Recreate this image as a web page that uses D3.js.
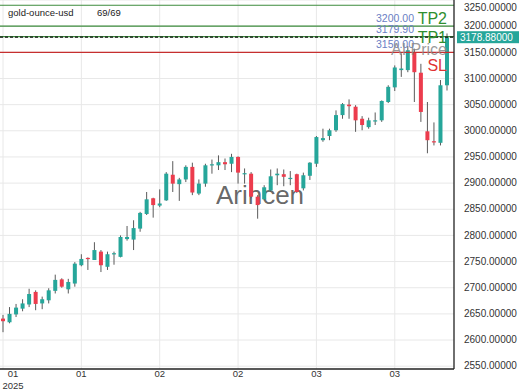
<!DOCTYPE html>
<html><head><meta charset="utf-8">
<script src="https://cdn.jsdelivr.net/npm/d3@7"></script>
<style>body{margin:0;background:#fff}svg{display:block;font-family:"Liberation Sans",Arial,sans-serif}</style>
</head><body><svg id="c" width="520" height="390"></svg>
<script>
const symbol = "gold-ounce-usd";
const countLabel = "69/69";
const openV  = [2641,2634,2649,2660,2668,2692,2670,2676,2694,2716,2697,2708,2743,2757,2753,2769,2740,2764,2759,2793,2792,2813,2841,2871,2857,2867,2916,2898,2907,2931,2880,2899,2934,2934,2940,2937,2950,2917,2918,2874,2869,2886,2915,2917,2908,2917,2890,2914,2937,2982,2990,3001,3030,3050,3046,3023,3007,3018,3020,3055,3083,3116,3116,3149,3111,2999,2980,2977,3087];
const highV  = [2648,2663,2669,2678,2698,2695,2683,2699,2725,2718,2717,2749,2764,2758,2787,2772,2769,2769,2800,2818,2829,2845,2883,2872,2888,2921,2942,2910,2934,2939,2907,2937,2945,2953,2947,2956,2951,2928,2921,2877,2896,2926,2928,2926,2923,2918,2920,2940,2990,3004,3004,3039,3053,3060,3049,3028,3025,3035,3058,3087,3125,3148,3162,3157,3128,3055,3016,3097,3186];
const lowV   = [2615,2632,2644,2655,2663,2657,2659,2670,2689,2700,2689,2702,2741,2734,2753,2730,2734,2744,2758,2790,2772,2807,2839,2834,2854,2866,2883,2866,2902,2877,2877,2893,2918,2925,2925,2921,2899,2899,2871,2832,2867,2883,2896,2894,2896,2881,2886,2906,2931,2979,2982,2998,3023,3023,2998,3001,3004,3011,3017,3053,3076,3103,3112,3055,3017,2957,2972,2972,3077];
const closeV = [2636,2650,2662,2670,2688,2669,2678,2695,2715,2702,2711,2746,2755,2755,2772,2743,2764,2766,2797,2797,2814,2843,2869,2858,2861,2918,2899,2907,2931,2882,2899,2934,2936,2940,2936,2950,2920,2919,2874,2858,2892,2913,2918,2912,2910,2883,2915,2939,2988,2986,3001,3030,3051,3047,3020,3011,3020,3020,3057,3084,3121,3119,3154,3112,3036,2982,2978,3087,3178.88];
const yTicks = [2550,2600,2650,2700,2750,2800,2850,2900,2950,3000,3050,3100,3150,3200,3250];
const xTickIndex = [0,12,24,36,48,60];
const xTickLabels = ["01","01","02","02","03","03"];
const yearLabel = "2025";
const levelValues = [3240, 3200, 3179.90, 3150];
const levelNames  = ["", "TP2", "TP1", "SL"];
const levelKinds  = ["tp", "tp", "tp", "sl"];
const lastPrice = 3178.88;
const aiLabel = "AI Price";
const watermark = "Arincen";

const svg = d3.select("#c");
const PL = 0, PR = 454, PT = 0, PB = 369;
const x = d3.scalePoint().domain(d3.range(openV.length)).range([3, 447]);
const y = d3.scaleLinear().domain([2550, 3250]).range([366.2, 0]);

svg.append("defs").append("clipPath").attr("id","clip").append("rect")
  .attr("x",PL).attr("y",PT).attr("width",PR-PL).attr("height",PB-PT);

// grid
const grid = svg.append("g");
grid.selectAll("line.h").data(yTicks).join("line")
  .attr("x1",PL).attr("x2",PR).attr("y1",d=>y(d)).attr("y2",d=>y(d))
  .attr("stroke","#e8e8e8").attr("stroke-width",1);
grid.selectAll("line.v").data(xTickIndex).join("line")
  .attr("x1",d=>x(d)).attr("x2",d=>x(d)).attr("y1",PT).attr("y2",PB)
  .attr("stroke","#e8e8e8").attr("stroke-width",1);

// watermark
svg.append("text").attr("x",260).attr("y",204).attr("text-anchor","middle")
  .attr("font-size",26).attr("fill","#555").attr("fill-opacity",0.9).text(watermark);

// candles
const up = "#26a69a", down = "#ec3c4d";
const cg = svg.append("g").attr("clip-path","url(#clip)");
const idx = d3.range(openV.length);
cg.selectAll("line.w").data(idx).join("line")
  .attr("x1",i=>x(i)).attr("x2",i=>x(i))
  .attr("y1",i=>y(highV[i])).attr("y2",i=>y(lowV[i]))
  .attr("stroke","#5a5a5a").attr("stroke-width",1);
cg.selectAll("rect.b").data(idx).join("rect")
  .attr("x",i=>x(i)-2).attr("width",4)
  .attr("y",i=>y(Math.max(openV[i],closeV[i])))
  .attr("height",i=>Math.max(1.2, Math.abs(y(openV[i])-y(closeV[i]))))
  .attr("fill",i=>closeV[i]>=openV[i]?up:down);

// level lines
const lg = svg.append("g");
levelValues.forEach((v,i)=>{
  lg.append("line").attr("x1",PL).attr("x2",PR).attr("y1",y(v)).attr("y2",y(v))
    .attr("stroke", levelKinds[i]==="sl" ? "#c62f2f" : "#3d8b3d").attr("stroke-width",1.2);
});
lg.append("line").attr("x1",PL).attr("x2",PR).attr("y1",y(lastPrice)).attr("y2",y(lastPrice))
  .attr("stroke","#111").attr("stroke-width",1.2).attr("stroke-dasharray","3,2");

// level labels
levelValues.forEach((v,i)=>{
  if(!levelNames[i]) return;
  const yy = y(v);
  lg.append("text").attr("x",414).attr("y",yy-4).attr("text-anchor","end")
    .attr("font-size",10.5).attr("fill","#6a80c4").text(v.toFixed(2));
});
levelValues.forEach((v,i)=>{
  if(!levelNames[i]) return;
  const yy = y(v);
  const isSl = levelKinds[i]==="sl";
  lg.append("text").attr("x",447).attr("y", isSl ? yy+19 : yy-2 + (levelNames[i]==="TP1"?8:0))
    .attr("text-anchor","end").attr("font-size",16)
    .attr("fill", isSl ? "#e03333" : "#2f8f2f").text(levelNames[i]);
});
lg.append("text").attr("x",447).attr("y",y(3150)+3).attr("text-anchor","end")
  .attr("font-size",16).attr("fill","#888").attr("fill-opacity",0.85).text(aiLabel);

// frame
svg.append("line").attr("x1",PR).attr("x2",PR).attr("y1",0).attr("y2",PB).attr("stroke","#222").attr("stroke-width",1.3);
svg.append("line").attr("x1",0).attr("x2",PR).attr("y1",PB).attr("y2",PB).attr("stroke","#222").attr("stroke-width",1.3);

// y axis
const ya = svg.append("g").attr("transform",`translate(${PR+8},0)`)
  .call(d3.axisRight(y).tickValues(yTicks).tickFormat(d=>d.toFixed(5)).tickSize(0).tickPadding(2));
ya.select(".domain").remove();
ya.selectAll("text").attr("font-size",10).attr("fill","#333").attr("font-family","Liberation Sans, Arial, sans-serif");
ya.selectAll(".tick").attr("transform",d=>`translate(0,${Math.max(8,y(d))})`);

// price tag
svg.append("rect").attr("x",PR+3).attr("y",y(lastPrice)-6).attr("width",62).attr("height",12).attr("fill","#26a69a");
svg.append("text").attr("x",PR+6).attr("y",y(lastPrice)+3.6).attr("font-size",10).attr("fill","#fff").text(lastPrice.toFixed(5));

// x axis
const xa = svg.append("g").attr("transform",`translate(0,${PB})`)
  .call(d3.axisBottom(x).tickValues(xTickIndex).tickFormat((d,i)=>xTickLabels[i]).tickSize(0).tickPadding(1));
xa.select(".domain").remove();
xa.selectAll("text").attr("font-size",9.5).attr("fill","#333").attr("font-family","Liberation Sans, Arial, sans-serif");
xa.selectAll(".tick").attr("transform",d=>`translate(${Math.max(13,x(d))},0)`);
svg.append("text").attr("x",13).attr("y",388.5).attr("text-anchor","middle").attr("font-size",9.5).attr("fill","#333").text(yearLabel);

// header
svg.append("text").attr("x",8).attr("y",16).attr("font-size",9.5).attr("fill","#222").text(symbol);
svg.append("text").attr("x",97).attr("y",16).attr("font-size",9.5).attr("fill","#222").text(countLabel);
</script></body></html>
